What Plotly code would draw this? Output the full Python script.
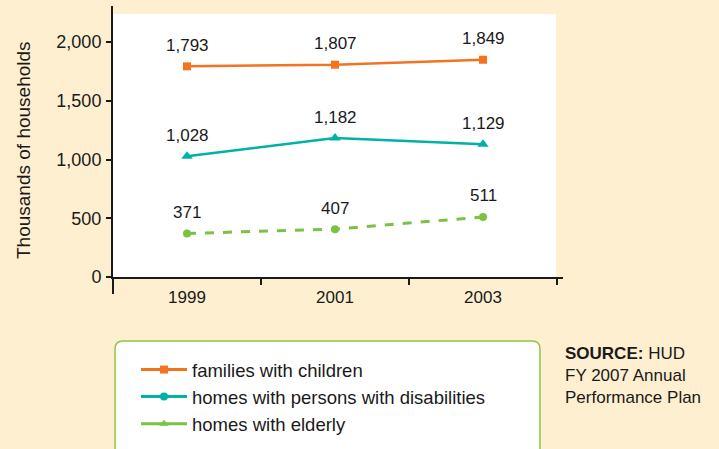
import plotly.graph_objects as go

# ---- data -------------------------------------------------------------
years = ["1999", "2001", "2003"]
families_children = [1793, 1807, 1849]
persons_disabilities = [1028, 1182, 1129]
homes_elderly = [371, 407, 511]
series_names = [
    "families with children",
    "homes with persons with disabilities",
    "homes with elderly",
]
y_ticks = [0, 500, 1000, 1500, 2000]

# ---- styling ----------------------------------------------------------
W, H = 719, 449
CREAM = "#FEEFD0"
ORANGE = "#F47321"
TEAL = "#00B1A6"
GREEN = "#7CC242"
INK = "#1a1a1a"
FONT = "Liberation Sans, Arial, sans-serif"

# plot area in pixels
L, R = 113, 557
T, B = 6, 277
Y_PER_PX = 2000 / (277 - 42)
Y_MAX = (B - T) * Y_PER_PX


def px(x):
    return (x - L) / (R - L)


def py(y):
    return (B - y) / (B - T)


fig = go.Figure()

fig.add_trace(go.Scatter(
    x=years, y=families_children, mode="lines+markers",
    line=dict(color=ORANGE, width=2.5),
    marker=dict(symbol="square", size=8, color=ORANGE),
    showlegend=False, cliponaxis=False,
))
fig.add_trace(go.Scatter(
    x=years, y=persons_disabilities, mode="lines+markers",
    line=dict(color=TEAL, width=2.5),
    marker=dict(symbol="triangle-up", size=10, color=TEAL),
    showlegend=False, cliponaxis=False,
))
fig.add_trace(go.Scatter(
    x=years, y=homes_elderly, mode="lines+markers",
    line=dict(color=GREEN, width=3, dash="dash"),
    marker=dict(symbol="circle", size=8, color=GREEN),
    showlegend=False, cliponaxis=False,
))

# legend entries
legend_styles = [
    (ORANGE, "square"),
    (TEAL, "circle"),
    (GREEN, "triangle-up"),
]
for name, (col, sym) in zip(series_names, legend_styles):
    fig.add_trace(go.Scatter(
        x=[None], y=[None], mode="lines+markers", name=name,
        line=dict(color=col, width=3),
        marker=dict(symbol=sym, size=8, color=col),
    ))

# value labels above each point (category index on x)
annotations = []
for series in (families_children, persons_disabilities, homes_elderly):
    for i, v in enumerate(series):
        annotations.append(dict(
            x=i, y=v, xref="x", yref="y", text=f"{v:,}", showarrow=False,
            yshift=21, font=dict(family=FONT, size=17, color=INK),
        ))

# y-axis title
annotations.append(dict(
    x=px(23), y=py(150), xref="paper", yref="paper",
    text="Thousands of households", textangle=-90, showarrow=False,
    xanchor="center", yanchor="middle",
    font=dict(family=FONT, size=19, color=INK),
))

# source note
annotations.append(dict(
    x=px(563), y=py(375), xref="paper", yref="paper",
    text="<b>SOURCE:</b> HUD<br>FY 2007 Annual<br>Performance Plan",
    showarrow=False, xanchor="left", yanchor="middle", align="left",
    font=dict(family=FONT, size=17, color=INK),
))

# rounded legend box
bx0, bx1, by0, by1, r = 115, 540, 341, 470, 8
path = (
    f"M{px(bx0)},{py(by0 + r)} "
    f"Q{px(bx0)},{py(by0)} {px(bx0 + r)},{py(by0)} "
    f"L{px(bx1 - r)},{py(by0)} "
    f"Q{px(bx1)},{py(by0)} {px(bx1)},{py(by0 + r)} "
    f"L{px(bx1)},{py(by1)} L{px(bx0)},{py(by1)} Z"
)

shapes = [
    # white plotting panel
    dict(type="rect", xref="paper", yref="paper", x0=0, x1=px(556),
         y0=0, y1=py(14), fillcolor="white", line=dict(width=0), layer="below"),
    # axis line extensions
    dict(type="line", xref="paper", yref="paper", x0=0, x1=0,
         y0=py(277), y1=py(294), line=dict(color=INK, width=2)),
    dict(type="line", xref="paper", yref="paper", x0=1, x1=px(563),
         y0=py(278), y1=py(278), line=dict(color=INK, width=2)),
    dict(type="path", xref="paper", yref="paper", path=path,
         fillcolor="white", line=dict(color="#8DC63F", width=1.5), layer="below"),
]

fig.update_layout(
    width=W, height=H,
    margin=dict(l=L, r=W - R, t=T, b=H - B, pad=0, autoexpand=False),
    paper_bgcolor=CREAM, plot_bgcolor=CREAM,
    font=dict(family=FONT, color=INK),
    showlegend=True,
    legend=dict(
        x=px(136), y=py(351), xanchor="left", yanchor="top",
        bgcolor="rgba(0,0,0,0)", font=dict(family=FONT, size=18.5, color=INK),
        itemwidth=46, tracegroupgap=0,
    ),
    annotations=annotations,
    shapes=shapes,
    xaxis=dict(
        type="category", range=[-0.5, 2.5], tickson="boundaries",
        ticks="outside", ticklen=6, tickwidth=1.5, tickcolor=INK,
        showline=True, linecolor=INK, linewidth=2, showgrid=False,
        ticklabelstandoff=4,
        tickfont=dict(family=FONT, size=17, color=INK),
    ),
    yaxis=dict(
        range=[0, Y_MAX], tickvals=y_ticks, tickformat=",",
        ticks="outside", ticklen=5, tickwidth=1.5, tickcolor=INK,
        showline=True, linecolor=INK, linewidth=2, showgrid=False,
        zeroline=False, ticklabelstandoff=1,
        tickfont=dict(family=FONT, size=18, color=INK),
    ),
)

fig.write_html("out.html")
